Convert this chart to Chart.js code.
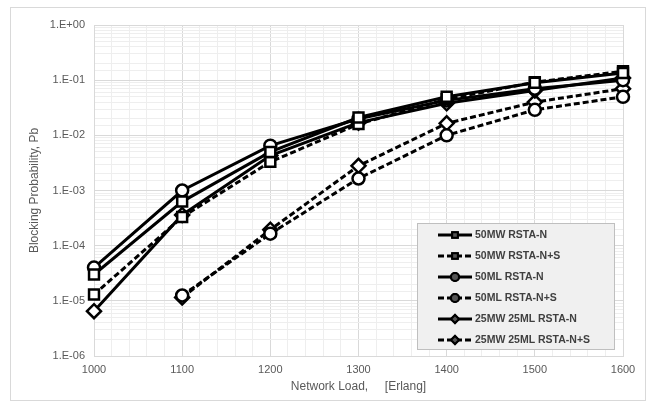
<!DOCTYPE html>
<html>
<head>
<meta charset="utf-8">
<script src="https://cdn.jsdelivr.net/npm/chart.js@4/dist/chart.umd.min.js"></script>
<style>
    html, body { margin: 0; padding: 0; background: #ffffff; }
    #wrap { position: relative; width: 651px; height: 405px; }
    #frame { position: absolute; left: 10px; top: 7px; width: 634px; height: 392px; border: 1px solid #d9d9d9; }
    canvas { position: absolute; left: 0; top: 0; }
</style>
</head>
<body>
<div id="wrap">
    <div id="frame"></div>
    <canvas id="pbChart" width="651" height="405"></canvas>
</div>
<script>
// Network load (Erlang)
const loads = [1000, 1100, 1200, 1300, 1400, 1500, 1600];

// Blocking probability per scheme
const mw50N = [3.0e-5, 6.3e-4, 5.0e-3, 2.1e-2, 5.0e-2, 9.0e-2, 1.35e-1];
const mw50NS = [1.3e-5, 3.3e-4, 3.3e-3, 1.6e-2, 4.5e-2, 9.2e-2, 1.45e-1];
const ml50N = [4.0e-5, 1.0e-3, 6.5e-3, 2.0e-2, 4.3e-2, 7.0e-2, 1.0e-1];
const ml50NS = [null, 1.25e-5, 1.65e-4, 1.65e-3, 1.0e-2, 2.9e-2, 5.0e-2];
const mix25N = [6.5e-6, 3.6e-4, 4.3e-3, 1.7e-2, 3.8e-2, 6.5e-2, 1.1e-1];
const mix25NS = [null, 1.15e-5, 1.95e-4, 2.8e-3, 1.65e-2, 4.0e-2, 7.0e-2];

const seriesNames = ['50MW RSTA-N', '50MW RSTA-N+S', '50ML RSTA-N', '50ML RSTA-N+S', '25MW 25ML RSTA-N', '25MW 25ML RSTA-N+S'];

const FONT = "'Liberation Sans', Arial, sans-serif";

function makeSet(name, values, shape, dashed) {
    const r = shape === 'circle' ? 6 : 7;
    return {
        label: name,
        data: loads.map((x, i) => ({ x: x, y: values[i] })),
        borderColor: '#000000',
        borderWidth: 3,
        borderDash: dashed ? [6, 3] : [],
        pointStyle: shape,
        pointRadius: r,
        pointBorderWidth: 2.5,
        pointBackgroundColor: '#ffffff',
        pointBorderColor: '#000000',
        spanGaps: false,
        clip: false,
        tension: 0
    };
}

function isDecade(v) {
    const l = Math.log10(v);
    return Math.abs(l - Math.round(l)) < 1e-6;
}

function sciLabel(v) {
    const e = Math.round(Math.log10(v));
    return '1.E' + (e < 0 ? '-' : '+') + String(Math.abs(e)).padStart(2, '0');
}

// Legend box drawn inside the plot, Excel style
const boxLegend = {
    id: 'boxLegend',
    afterDraw(chart) {
        const ctx = chart.ctx;
        const bx = 417, by = 223, bw = 197, bh = 126;
        ctx.save();
        ctx.fillStyle = '#f0f0f0';
        ctx.fillRect(bx, by, bw, bh);
        ctx.strokeStyle = '#bfbfbf';
        ctx.lineWidth = 1;
        ctx.strokeRect(bx + 0.5, by + 0.5, bw, bh);
        chart.data.datasets.forEach((ds, i) => {
            const y = by + 12 + i * 21;
            ctx.strokeStyle = '#000000';
            ctx.lineWidth = 3;
            ctx.setLineDash(ds.borderDash);
            ctx.beginPath();
            ctx.moveTo(438, y);
            ctx.lineTo(472, y);
            ctx.stroke();
            ctx.setLineDash([]);
            ctx.lineWidth = 2;
            ctx.fillStyle = '#555555';
            Chart.helpers.drawPoint(ctx, { pointStyle: ds.pointStyle, radius: 4, borderWidth: 2, rotation: 0 }, 455, y);
            ctx.fill();
            ctx.stroke();
            ctx.fillStyle = '#404040';
            ctx.font = 'bold 10.5px ' + FONT;
            ctx.textBaseline = 'middle';
            ctx.textAlign = 'left';
            ctx.fillText(ds.label, 475, y + 0.5);
        });
        ctx.restore();
    }
};

new Chart(document.getElementById('pbChart').getContext('2d'), {
    type: 'line',
    data: {
        datasets: [
            makeSet(seriesNames[0], mw50N, 'rect', false),
            makeSet(seriesNames[1], mw50NS, 'rect', true),
            makeSet(seriesNames[2], ml50N, 'circle', false),
            makeSet(seriesNames[3], ml50NS, 'circle', true),
            makeSet(seriesNames[4], mix25N, 'rectRot', false),
            makeSet(seriesNames[5], mix25NS, 'rectRot', true)
        ]
    },
    options: {
        responsive: false,
        animation: false,
        layout: { padding: { left: 0, top: 25, right: 28, bottom: 0 } },
        plugins: {
            legend: { display: false },
            tooltip: { enabled: false }
        },
        scales: {
            x: {
                type: 'linear',
                min: 1000,
                max: 1600,
                afterFit: s => { s.height = 49; },
                ticks: {
                    stepSize: 20,
                    autoSkip: false,
                    maxRotation: 0,
                    padding: 7,
                    color: '#595959',
                    font: { family: FONT, size: 11 },
                    callback: v => (v % 100 === 0 ? String(v) : '')
                },
                grid: {
                    drawTicks: false,
                    color: c => (c.tick && c.tick.value % 100 === 0 ? '#d9d9d9' : '#eeeeee')
                },
                border: { color: '#d9d9d9' },
                title: {
                    display: true,
                    text: 'Network Load,     [Erlang]',
                    color: '#595959',
                    font: { family: FONT, size: 12 },
                    padding: { top: 0, bottom: 11 }
                }
            },
            y: {
                type: 'logarithmic',
                min: 1e-6,
                max: 1,
                afterFit: s => { s.width = 94; },
                ticks: {
                    autoSkip: false,
                    padding: 9,
                    color: '#595959',
                    font: { family: FONT, size: 11 },
                    callback: v => (isDecade(v) ? sciLabel(v) : '')
                },
                grid: {
                    drawTicks: false,
                    color: c => (c.tick && isDecade(c.tick.value) ? '#d9d9d9' : '#eeeeee')
                },
                border: { color: '#d9d9d9' },
                title: {
                    display: true,
                    text: 'Blocking Probability, Pb',
                    color: '#595959',
                    font: { family: FONT, size: 12 },
                    padding: { top: 27, bottom: 0 }
                }
            }
        }
    },
    plugins: [boxLegend]
});
</script>
</body>
</html>
